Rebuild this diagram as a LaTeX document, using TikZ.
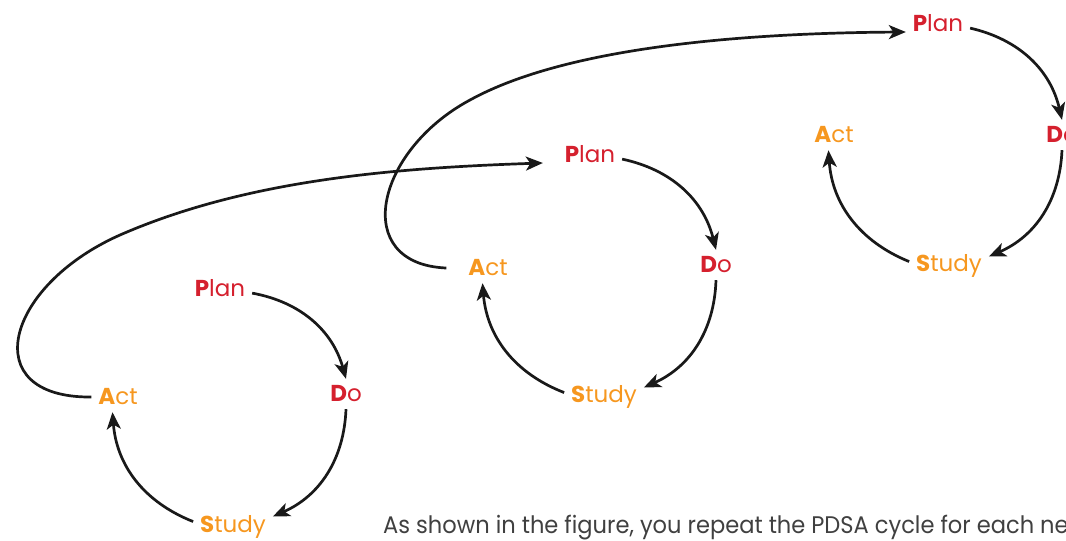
\documentclass[tikz,border=0pt]{standalone}
\usepackage{fontspec}
\setmainfont{Poppins}
\usetikzlibrary{arrows.meta}
\definecolor{pdsared}{RGB}{213,32,46}
\definecolor{pdsaorange}{RGB}{246,151,31}

\begin{document}
\begin{tikzpicture}[x=1pt, y=1pt,
		phase/.style={font=\fontsize{23}{23}\selectfont, inner sep=1pt, outer sep=6pt, anchor=base},
		pd/.style={phase, text=pdsared},
		sa/.style={phase, text=pdsaorange},
		link/.style={line width=2.7pt, draw=black!90, -{Stealth[length=17pt, width=14pt, inset=4.5pt]}},
		turn/.style={link, bend left=32},
		note/.style={font=\fontsize{24}{24}\selectfont\addfontfeature{FakeStretch=0.94}, text=black!75, inner sep=0pt, anchor=base west}]
		
		\useasboundingbox (0,0) rectangle (1066,541);
		\clip (0,0) rectangle (1066,541);
		
		% Cycle 1
		\node[pd] (plan1) at (220,244) {\textbf{P}lan};
		\node[pd] (do1) at (346,139) {\textbf{D}o};
		\node[sa] (study1) at (233,9) {\textbf{S}tudy};
		\node[sa] (act1) at (118,136) {\textbf{A}ct};
		
		% Cycle 2
		\node[pd] (plan2) at (590,378) {\textbf{P}lan};
		\node[pd] (do2) at (716,268) {\textbf{D}o};
		\node[sa] (study2) at (604,138) {\textbf{S}tudy};
		\node[sa] (act2) at (488,265) {\textbf{A}ct};
		
		% Cycle 3
		\node[pd] (plan3) at (938,509) {\textbf{P}lan};
		\node[pd] (do3) at (1062,398) {\textbf{D}o};
		\node[sa] (study3) at (949,269) {\textbf{S}tudy};
		\node[sa] (act3) at (834,398) {\textbf{A}ct};
		
		% Caption
		\node[note] (caption) at (383,8) {As shown in the figure, you repeat the PDSA cycle for each ne};
		
		% Arrows inside each cycle
		\draw[turn] (plan1.-8) to (do1.north);
		\draw[turn] (do1.south) to (study1.14);
		\draw[turn] (study1.173) to (act1.-110);
		
		\draw[turn] (plan2.-8) to (do2.north);
		\draw[turn] (do2.south) to (study2.14);
		\draw[turn] (study2.173) to (act2.-110);
		
		\draw[turn] (plan3.-8) to (do3.north);
		\draw[turn] (do3.south) to (study3.14);
		\draw[turn] (study3.173) to (act3.-110);
		
		% Arrows to the next cycle
		\draw[link] (act1.west) .. controls (-25,143) and (5,255) .. (120,306)
			.. controls (246,361) and (393,373) .. ([xshift=-15pt]plan2.base west);
		\draw[link] ([xshift=-15pt]act2.west) .. controls (350,277) and (375,390) .. (470,441)
			.. controls (570,496) and (755,508) .. (plan3.base west);
		
	\end{tikzpicture}
\end{document}
